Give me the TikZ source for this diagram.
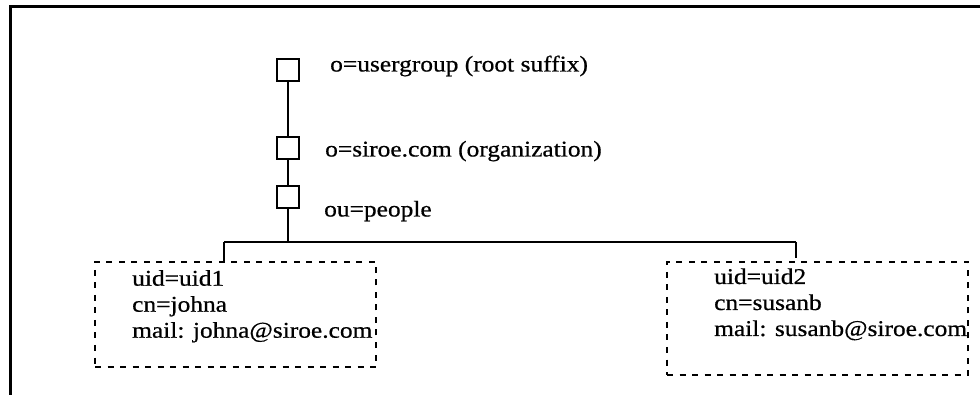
\documentclass[tikz,border=0pt]{standalone}
\usepackage{fontspec}
\setmainfont[FakeStretch=1.13, FakeBold=0.6]{Liberation Serif}
\usetikzlibrary{calc}

\tikzset{
  treeline/.style={line width=2.4pt},
  framerule/.style={line width=2.6pt},
  entrynode/.style={draw, line width=2pt, fill=white, minimum width=22pt, minimum height=22pt, inner sep=0pt},
  dnlabel/.style={anchor=base west, inner sep=0pt},
  entrybox/.style={draw, line width=2.3pt, dash pattern=on 6pt off 6.5pt, inner sep=0pt},
  attrtext/.style={anchor=base west, inner sep=0pt}
}

\begin{document}
\begin{tikzpicture}[x=1pt, y=-1pt, font=\fontsize{22.5}{26}\selectfont]
  \useasboundingbox[fill=white] (0,0) rectangle (980,395);

  % open frame: top and left rules
  \coordinate (frameTL) at (10.5,6.7);
  \coordinate (frameTR) at (980,6.7);
  \coordinate (frameBL) at (10.5,395);
  \draw[framerule] (frameTR) -- (frameTL) -- (frameBL);

  % directory entries on the trunk
  \node[entrynode] (root) at (288,70.5) {};
  \node[entrynode] (org)  at (288,148) {};
  \node[entrynode] (ppl)  at (288,197.5) {};

  \node[dnlabel] (rootlbl) at (330,71.5)  {o=usergroup (root suffix)};
  \node[dnlabel] (orglbl)  at (325,156.5) {o=siroe.com (organization)};
  \node[dnlabel] (ppllbl)  at (324,216.5) {ou=people};

  % user entries
  \node[entrybox, minimum width=281pt, minimum height=105pt] (user1) at (235.5,314.5) {};
  \node[entrybox, minimum width=301pt, minimum height=113pt] (user2) at (817.5,318.5) {};

  \node[attrtext] (user1txt) at (132,285.7)
    {\begin{tabular}[t]{@{}l@{}}uid=uid1\\cn=johna\\mail: johna@siroe.com\end{tabular}};
  \node[attrtext] (user2txt) at (714,284)
    {\begin{tabular}[t]{@{}l@{}}uid=uid2\\cn=susanb\\mail: susanb@siroe.com\end{tabular}};

  % branching bus
  \coordinate (busmid) at (288,242);
  \coordinate (busL)   at (224,242);
  \coordinate (busR)   at (796,242);

  \draw[treeline] (root) -- (org);
  \draw[treeline] (org) -- (ppl);
  \draw[treeline] (ppl) -- (busmid);
  \draw[treeline] (busL) -- (busR);
  \draw[treeline] (busL) -- (busL |- user1.north);
  \draw[treeline] (busR) -- ($(busR |- user2.north)+(0,-3)$);
\end{tikzpicture}
\end{document}
